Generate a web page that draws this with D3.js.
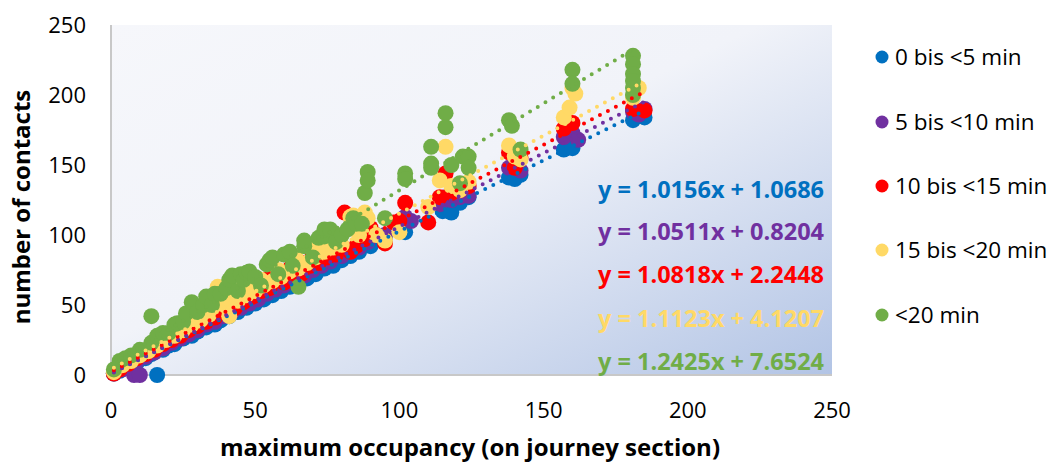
<!DOCTYPE html>
<html>
<head>
  <meta charset="utf-8">
  <script src="https://d3js.org/d3.v7.min.js"></script>
  <style>
    body { margin: 0; background: #fff; }
    svg text { font-family: "Open Sans", "Noto Sans", sans-serif; }
  </style>
</head>
<body>
<div id="chart"></div>
<script>
  // series labels and colours
  var seriesNames = ["0 bis <5 min", "5 bis <10 min", "10 bis <15 min", "15 bis <20 min", "<20 min"];
  var seriesColors = ["#0070C0", "#7030A0", "#FF0000", "#FFD966", "#70AD47"];

  // trendline coefficients shown on the chart
  var slopes = [1.0156, 1.0511, 1.0818, 1.1123, 1.2425];
  var intercepts = [1.0686, 0.8204, 2.2448, 4.1207, 7.6524];

  var xTicks = [0, 50, 100, 150, 200, 250];
  var yTicks = [0, 50, 100, 150, 200, 250];

  // [maximum occupancy, number of contacts]
  var blue = [[1,1],[3,3],[5,6],[7,7],[9,9],[12,12],[16,0],[14,15],[18,18],[20,21],[22,22],[25,26],[28,28],
    [30,31],[33,34],[36,36],[38,39],[41,42],[44,45],[47,48],[50,51],[53,54],[56,57],[59,60],[62,63],[65,66],
    [68,69],[71,72],[74,76],[77,78],[80,82],[83,85],[86,88],[90,92],[95,97],[101,104],[102,102],[115,117],
    [118,116],[121,123],[124,127],[138,141],[140,140],[142,143],[157,161],[160,162],[181,182],[183,185],[185,184]];
  var purple = [[1,1],[4,4],[6,7],[8,0],[10,0],[9,10],[12,13],[15,16],[18,19],[20,24],[21,23],[24,26],[27,29],
    [30,32],[33,36],[35,40],[36,38],[39,42],[42,45],[45,48],[48,51],[50,57],[51,54],[54,58],[57,61],[60,64],
    [64,68],[65,72],[67,71],[70,75],[73,78],[76,81],[78,86],[80,85],[83,88],[86,91],[89,95],[92,100],[95,100],
    [102,113],[104,110],[114,122],[116,127],[118,125],[121,127],[124,128],[138,148],[140,150],[142,146],
    [157,170],[160,173],[162,168],[181,188],[183,186],[185,190]];
  var red = [[1,1],[3,4],[6,8],[9,12],[12,15],[15,18],[18,22],[20,27],[21,25],[24,28],[26,34],[27,32],[30,35],
    [32,42],[33,38],[35,47],[36,41],[38,54],[40,45],[42,55],[43,48],[45,58],[46,52],[49,56],[50,62],[52,60],
    [54,68],[55,62],[57,74],[58,72],[60,66],[62,76],[63,70],[66,72],[66,80],[69,78],[70,86],[72,80],[75,84],
    [76,90],[78,86],[81,116],[83,88],[84,112],[85,92],[86,104],[88,97],[90,105],[95,94],[98,109],[100,110],
    [102,123],[110,109],[114,127],[116,144],[118,130],[121,132],[124,135],[138,159],[140,148],[142,155],
    [157,176],[160,180],[181,190],[185,189]];
  var yellow = [[1,2],[4,7],[7,10],[10,14],[13,17],[16,21],[18,27],[19,25],[22,28],[24,34],[25,32],[28,36],
    [30,42],[31,39],[34,43],[36,50],[37,63],[39,55],[40,49],[41,42],[43,60],[44,53],[47,57],[48,66],[50,60],
    [52,68],[53,64],[56,67],[58,75],[59,70],[62,74],[64,84],[65,76],[68,80],[70,90],[71,84],[74,88],[76,98],
    [77,91],[80,93],[83,113],[84,114],[86,100],[88,116],[89,112],[92,100],[95,96],[100,102],[110,120],
    [114,139],[116,163],[118,135],[121,132],[124,138],[138,164],[140,156],[142,154],[157,184],[159,191],
    [160,205],[161,201],[181,198],[183,205]];
  var green = [[1,4],[3,10],[5,12],[7,14],[10,18],[14,42],[14,23],[16,28],[18,30],[20,30],[22,36],[23,37],
    [25,38],[26,44],[28,52],[30,45],[32,50],[33,56],[35,50],[36,58],[38,58],[40,62],[41,68],[42,71],[44,60],
    [45,72],[46,68],[47,73],[48,74],[50,70],[52,64],[54,79],[55,82],[56,84],[58,72],[60,86],[62,88],[63,78],
    [65,63],[67,92],[67,96],[70,84],[72,98],[74,99],[74,104],[76,104],[78,95],[80,100],[82,104],[84,112],
    [85,108],[87,108],[88,130],[89,145],[89,139],[95,112],[102,144],[102,140],[111,163],[111,151],[111,148],
    [116,187],[116,177],[118,150],[121,137],[122,156],[124,156],[124,148],[138,182],[139,178],[142,161],
    [160,218],[160,208],[181,228],[181,222],[181,215],[181,210],[181,205],[181,200]];

  var allSeries = [blue, purple, red, yellow, green];

  var W = 1054, H = 466;
  var plot = {left: 111, right: 832, top: 25, bottom: 375};

  var x = d3.scaleLinear().domain([0, 250]).range([plot.left, plot.right]);
  var y = d3.scaleLinear().domain([0, 250]).range([plot.bottom, plot.top]);

  var svg = d3.select("#chart").append("svg")
      .attr("width", W)
      .attr("height", H);

  var defs = svg.append("defs");
  var grad = defs.append("linearGradient")
      .attr("id", "bg")
      .attr("x1", 0).attr("y1", 0)
      .attr("x2", 1).attr("y2", 1);
  grad.append("stop").attr("offset", "0").attr("stop-color", "#F6F7FB");
  grad.append("stop").attr("offset", "0.45").attr("stop-color", "#F1F3F9");
  grad.append("stop").attr("offset", "1").attr("stop-color", "#B2C4E5");

  svg.append("rect")
      .attr("x", plot.left)
      .attr("y", plot.top)
      .attr("width", plot.right - plot.left)
      .attr("height", plot.bottom - plot.top)
      .attr("fill", "url(#bg)");

  // left and bottom border
  svg.append("line")
      .attr("x1", plot.left).attr("x2", plot.left)
      .attr("y1", plot.top).attr("y2", plot.bottom)
      .attr("stroke", "#C8C8C8").attr("stroke-width", 2);
  svg.append("line")
      .attr("x1", plot.left).attr("x2", plot.right)
      .attr("y1", plot.bottom).attr("y2", plot.bottom)
      .attr("stroke", "#C8C8C8").attr("stroke-width", 2);

  // tick labels
  svg.append("g").selectAll("text")
      .data(yTicks)
      .enter().append("text")
      .attr("x", 86)
      .attr("y", function(d) { return y(d); })
      .attr("dy", "0.35em")
      .attr("text-anchor", "end")
      .attr("font-size", 22)
      .attr("fill", "#000")
      .text(function(d) { return d; });

  svg.append("g").selectAll("text")
      .data(xTicks)
      .enter().append("text")
      .attr("x", function(d) { return x(d); })
      .attr("y", 410)
      .attr("dy", "0.35em")
      .attr("text-anchor", "middle")
      .attr("font-size", 22)
      .attr("fill", "#000")
      .text(function(d) { return d; });

  // axis titles
  svg.append("text")
      .attr("x", 470)
      .attr("y", 448)
      .attr("dy", "0.35em")
      .attr("text-anchor", "middle")
      .attr("font-size", 24)
      .attr("font-weight", "bold")
      .text("maximum occupancy (on journey section)");

  svg.append("text")
      .attr("transform", "translate(22,207) rotate(-90)")
      .attr("dy", "0.35em")
      .attr("text-anchor", "middle")
      .attr("font-size", 24)
      .attr("font-weight", "bold")
      .text("number of contacts");

  // markers, later series on top
  allSeries.forEach(function(data, i) {
    svg.append("g").selectAll("circle")
        .data(data)
        .enter().append("circle")
        .attr("cx", function(d) { return x(d[0]); })
        .attr("cy", function(d) { return y(d[1]); })
        .attr("r", 8)
        .attr("fill", seriesColors[i]);
  });

  // dotted trendlines
  var line = d3.line()
      .x(function(d) { return x(d[0]); })
      .y(function(d) { return y(d[1]); });

  allSeries.forEach(function(data, i) {
    var ext = d3.extent(data, function(d) { return d[0]; });
    var pts = ext.map(function(v) { return [v, slopes[i] * v + intercepts[i]]; });
    svg.append("path")
        .attr("d", line(pts))
        .attr("fill", "none")
        .attr("stroke", seriesColors[i])
        .attr("stroke-width", 4)
        .attr("stroke-linecap", "round")
        .attr("stroke-dasharray", "0 9");
  });

  // equations
  var eqY = [190, 232, 275, 319, 362];
  seriesNames.forEach(function(n, i) {
    svg.append("text")
        .attr("x", 824)
        .attr("y", eqY[i])
        .attr("dy", "0.35em")
        .attr("text-anchor", "end")
        .attr("font-size", 23.5)
        .attr("font-weight", "bold")
        .attr("fill", seriesColors[i])
        .text("y = " + slopes[i].toFixed(4) + "x + " + intercepts[i].toFixed(4));
  });

  // legend
  var legY = [57, 122, 186, 250, 315];
  var legend = svg.append("g").selectAll("g")
      .data(seriesNames)
      .enter().append("g")
      .attr("transform", function(d, i) { return "translate(0," + legY[i] + ")"; });

  legend.append("circle")
      .attr("cx", 882)
      .attr("cy", 0)
      .attr("r", 6.5)
      .attr("fill", function(d, i) { return seriesColors[i]; });

  legend.append("text")
      .attr("x", 895)
      .attr("y", 0)
      .attr("dy", "0.35em")
      .attr("font-size", 22.5)
      .text(function(d) { return d; });
</script>
</body>
</html>
